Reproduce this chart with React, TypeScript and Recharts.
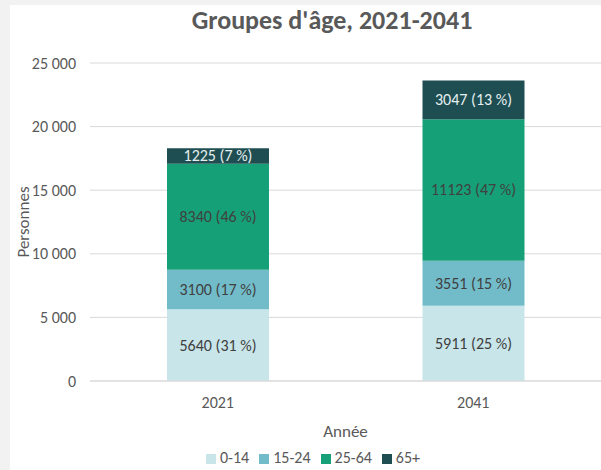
import { BarChart, Bar, XAxis, YAxis, CartesianGrid, Legend, LabelList } from "recharts"

// Population by age group (persons)
const years = ["2021", "2041"]
const age0to14 = [5640, 5911]
const age15to24 = [3100, 3551]
const age25to64 = [8340, 11123]
const age65plus = [1225, 3047]
const yTicks = [0, 5000, 10000, 15000, 20000, 25000]

const series = [
  { key: "g0", name: "0-14", values: age0to14, color: "#c8e5ea", text: "#404040" },
  { key: "g1", name: "15-24", values: age15to24, color: "#72bcca", text: "#404040" },
  { key: "g2", name: "25-64", values: age25to64, color: "#16a077", text: "#404040" },
  { key: "g3", name: "65+", values: age65plus, color: "#1e4e51", text: "#e6eff0" },
]

const totals = years.map((_, i) => series.reduce((sum, s) => sum + s.values[i], 0))

const data = years.map((year, i) => {
  const row: any = { year }
  series.forEach((s) => {
    row[s.key] = s.values[i]
  })
  return row
})

const fmtThousands = (v: number) => String(v).replace(/\B(?=(\d{3})+(?!\d))/g, " ")

const FONT = "Calibri, Carlito, Lato, sans-serif"

function makeLabel(values: number[], color: string) {
  return (props: any) => {
    const { x, y, width, height, index } = props
    const v = values[index]
    const pct = Math.round((v / totals[index]) * 100)
    return (
      <text
        x={x + width / 2}
        y={y + height / 2}
        textAnchor="middle"
        dominantBaseline="central"
        fill={color}
        style={{ fontSize: 16 }}
      >
        {`${v} (${pct} %)`}
      </text>
    )
  }
}

export default function App() {
  return (
    <div
      style={{
        position: "absolute",
        left: 0,
        top: 0,
        width: 601,
        height: 470,
        background: "#f2f2f2",
        overflow: "hidden",
        fontFamily: FONT,
      }}
    >
      <div style={{ position: "absolute", left: 10, top: 5, width: 600, height: 470, background: "#ffffff" }} />
      <div
        style={{
          position: "absolute",
          left: 132,
          width: 400,
          top: 5,
          textAlign: "center",
          fontSize: 26,
          fontWeight: 700,
          color: "#595959",
          lineHeight: "30px",
        }}
      >
        Groupes d'âge, 2021-2041
      </div>
      <div style={{ position: "absolute", left: 0, top: 0 }}>
        <BarChart width={601} height={470} data={data} margin={{ top: 63, right: 0, left: 18, bottom: 0 }} barSize={102}>
          <CartesianGrid vertical={false} stroke="#d9d9d9" />
          <XAxis
            dataKey="year"
            height={89}
            axisLine={{ stroke: "#d9d9d9" }}
            tickLine={false}
            tickSize={0}
            tickMargin={16}
            tick={{ fill: "#595959", fontSize: 16 }}
            label={{
              value: "Année",
              position: "insideTop",
              offset: 44,
              fill: "#595959",
              style: { fontSize: 17 },
            }}
          />
          <YAxis
            width={72}
            domain={[0, 25000]}
            ticks={yTicks}
            axisLine={false}
            tickLine={false}
            tickSize={0}
            tickMargin={14}
            tickFormatter={fmtThousands}
            tick={{ fill: "#595959", fontSize: 16 }}
            label={{
              value: "Personnes",
              angle: -90,
              position: "insideLeft",
              offset: 5,
              fill: "#595959",
              style: { textAnchor: "middle", fontSize: 17 },
            }}
          />
          <Legend
            layout="horizontal"
            verticalAlign="middle"
            align="center"
            iconType="square"
            iconSize={10}
            wrapperStyle={{ top: 448, left: 118, width: 400, fontSize: 16 }}
            formatter={(value: string) => <span style={{ color: "#595959" }}>{value}</span>}
          />
          {series.map((s) => (
            <Bar key={s.key} dataKey={s.key} name={s.name} stackId="a" fill={s.color} isAnimationActive={false}>
              <LabelList dataKey={s.key} content={makeLabel(s.values, s.text)} />
            </Bar>
          ))}
        </BarChart>
      </div>
    </div>
  )
}
